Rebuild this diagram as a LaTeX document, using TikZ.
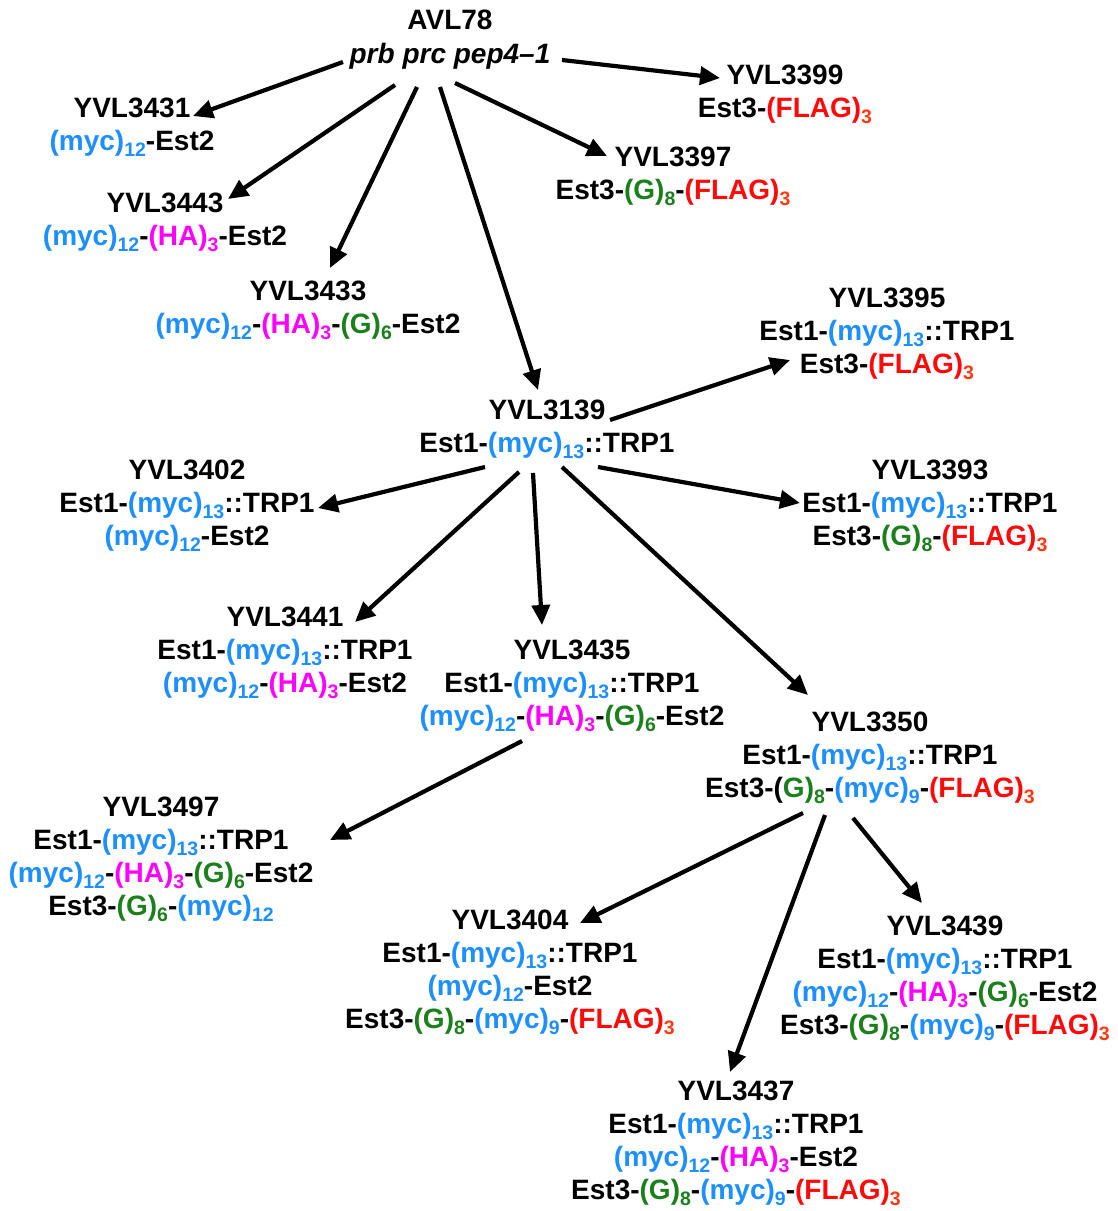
\documentclass[tikz,border=0pt]{standalone}
\usepackage{fontspec}
\setmainfont{Liberation Sans}
\usetikzlibrary{arrows.meta}
\definecolor{cB}{HTML}{1E8FFF}
\definecolor{cM}{HTML}{FF00FF}
\definecolor{cG}{HTML}{1B7F1B}
\definecolor{cR}{HTML}{FF0A0A}
\definecolor{cRs}{HTML}{FF3A12}
\newcommand\sbx[1]{\raisebox{-6.5pt}{\fontsize{19.5}{19.5}\selectfont #1}}
\newcommand\myc[1]{\textcolor{cB}{(myc)\sbx{#1}}}
\newcommand\HAt{\textcolor{cM}{(HA)\sbx{3}}}
\newcommand\Gly[1]{\textcolor{cG}{(G)\sbx{#1}}}
\newcommand\FLAGt{\textcolor{cR}{(FLAG)}\textcolor{cRs}{\sbx{3}}}
\newcommand\fstr{\rule{0pt}{22pt}}
\newcommand\estone{Est1-\myc{13}::TRP1}
\begin{document}
\begin{tikzpicture}[x=1pt,y=-1pt,
  lbl/.style={anchor=north, inner sep=0pt, align=center,
    font=\fontsize{28pt}{33pt}\selectfont\bfseries},
  arr/.style={line width=4.2pt, -{Triangle[length=20pt,width=18pt]}}]
\fill[white] (0,0) rectangle (1118,1211);
\useasboundingbox (0,0) rectangle (1118,1211);

\node[lbl] (avl)   at (450,7)    {\fstr AVL78\\[1pt]\textit{prb prc pep4–1}};
\node[lbl] (y3399) at (785,62)   {\fstr YVL3399\\Est3-\FLAGt};
\node[lbl] (y3431) at (132,95)   {\fstr YVL3431\\\myc{12}-Est2};
\node[lbl] (y3397) at (673,144)  {\fstr YVL3397\\Est3-\Gly{8}-\FLAGt};
\node[lbl] (y3443) at (165,190)  {\fstr YVL3443\\\myc{12}-\HAt-Est2};
\node[lbl] (y3433) at (308,278)  {\fstr YVL3433\\\myc{12}-\HAt-\Gly{6}-Est2};
\node[lbl] (y3395) at (887,285)  {\fstr YVL3395\\\estone\\Est3-\FLAGt};
\node[lbl] (y3139) at (547,397)  {\fstr YVL3139\\\estone};
\node[lbl] (y3402) at (187,457)  {\fstr YVL3402\\\estone\\\myc{12}-Est2};
\node[lbl] (y3393) at (930,457)  {\fstr YVL3393\\\estone\\Est3-\Gly{8}-\FLAGt};
\node[lbl] (y3441) at (285,604)  {\fstr YVL3441\\\estone\\\myc{12}-\HAt-Est2};
\node[lbl] (y3435) at (572,637)  {\fstr YVL3435\\\estone\\\myc{12}-\HAt-\Gly{6}-Est2};
\node[lbl] (y3350) at (870,709)  {\fstr YVL3350\\\estone\\Est3-(\textcolor{cG}{G)\sbx{8}}-\myc{9}-\FLAGt};
\node[lbl] (y3497) at (161,794)  {\fstr YVL3497\\\estone\\\myc{12}-\HAt-\Gly{6}-Est2\\Est3-\Gly{6}-\myc{12}};
\node[lbl] (y3404) at (510,907)  {\fstr YVL3404\\\estone\\\myc{12}-Est2\\Est3-\Gly{8}-\myc{9}-\FLAGt};
\node[lbl] (y3439) at (945,913)  {\fstr YVL3439\\\estone\\\myc{12}-\HAt-\Gly{6}-Est2\\Est3-\Gly{8}-\myc{9}-\FLAGt};
\node[lbl] (y3437) at (736,1078) {\fstr YVL3437\\\estone\\\myc{12}-\HAt-Est2\\Est3-\Gly{8}-\myc{9}-\FLAGt};

\draw[arr] ([shift={(-107,55)}]avl.north) -- ([shift={(61,21)}]y3431.north);
\draw[arr] ([shift={(112,53)}]avl.north) -- ([shift={(-65,16)}]y3399.north);
\draw[arr] ([shift={(-55,78)}]avl.north) -- ([shift={(63,9)}]y3443.north);
\draw[arr] ([shift={(5,76)}]avl.north) -- ([shift={(-66,12)}]y3397.north);
\draw[arr] ([shift={(-33,80)}]avl.north) -- ([shift={(22,-10)}]y3433.north);
\draw[arr] ([shift={(-10,80)}]avl.north) -- ([shift={(-9,-7)}]y3139.north);
\draw[arr] ([shift={(63,23)}]y3139.north) -- ([shift={(-97,75)}]y3395.north);
\draw[arr] ([shift={(-62,70)}]y3139.north) -- ([shift={(131,51)}]y3402.north);
\draw[arr] ([shift={(51,70)}]y3139.north) -- ([shift={(-130,46)}]y3393.north);
\draw[arr] ([shift={(-28,75)}]y3139.north) -- ([shift={(70,18)}]y3441.north);
\draw[arr] ([shift={(-14,76)}]y3139.north) -- ([shift={(-30,-12)}]y3435.north);
\draw[arr] ([shift={(15,70)}]y3139.north) -- ([shift={(-62,-14)}]y3350.north);
\draw[arr] ([shift={(-50,104)}]y3435.north) -- ([shift={(169,46)}]y3497.north);
\draw[arr] ([shift={(-67,104)}]y3350.north) -- ([shift={(70,16)}]y3404.north);
\draw[arr] ([shift={(-45,106)}]y3350.north) -- ([shift={(-6,-6)}]y3437.north);
\draw[arr] ([shift={(-17,109)}]y3350.north) -- ([shift={(-23,-10)}]y3439.north);
\end{tikzpicture}
\end{document}
